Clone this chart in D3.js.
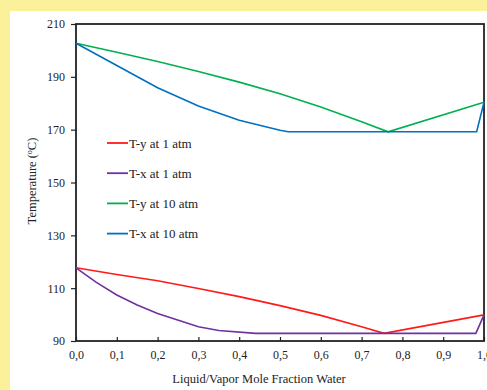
<!DOCTYPE html>
<html>
<head>
<meta charset="utf-8">
<script src="https://cdn.jsdelivr.net/npm/d3@7"></script>
<style>
  body { margin: 0; background: #faf19a; }
  svg { display: block; }
  text { font-family: "Liberation Serif", "Times New Roman", Times, "DejaVu Serif", serif; }
</style>
</head>
<body>
<script>
// series data (x = mole fraction water, T = temperature in C)
var ty1X = [0.0, 0.1, 0.2, 0.3, 0.4, 0.5, 0.6, 0.7, 0.755, 1.0];
var ty1T = [117.7, 115.2, 112.8, 109.9, 106.8, 103.4, 99.7, 95.4, 92.9, 99.9];

var tx1X = [0.0, 0.05, 0.1, 0.15, 0.2, 0.3, 0.35, 0.44, 0.98, 1.0];
var tx1T = [117.7, 112.2, 107.4, 103.6, 100.4, 95.4, 94.0, 92.9, 92.9, 99.9];

var ty10X = [0.0, 0.1, 0.2, 0.3, 0.4, 0.5, 0.6, 0.7, 0.765, 1.0];
var ty10T = [202.7, 199.3, 195.8, 192.0, 188.0, 183.6, 178.6, 173.0, 169.2, 180.4];

var tx10X = [0.0, 0.1, 0.2, 0.3, 0.4, 0.5, 0.52, 0.765, 0.982, 1.0];
var tx10T = [202.7, 194.3, 185.9, 179.0, 173.6, 169.8, 169.2, 169.2, 169.2, 180.4];

var seriesNames = ["T-y at 1 atm", "T-x at 1 atm", "T-y at 10 atm", "T-x at 10 atm"];
var seriesColors = ["#ff1a1a", "#7030a0", "#00b050", "#0070c0"];

var xTicks = [0, 0.1, 0.2, 0.3, 0.4, 0.5, 0.6, 0.7, 0.8, 0.9, 1.0];
var yTicks = [90, 110, 130, 150, 170, 190, 210];

var W = 487, H = 390;
var margin = {top: 24, left: 76};
var serif = "'Liberation Serif', 'Times New Roman', 'DejaVu Serif', serif";

var svg = d3.select("body").append("svg")
    .attr("width", W)
    .attr("height", H);

// white panel
svg.append("rect")
    .attr("x", 10).attr("y", 11)
    .attr("width", W - 10).attr("height", H - 11)
    .style("fill", "#fff");

var g = svg.append("g")
    .attr("transform", "translate(" + margin.left + "," + margin.top + ")");

var xScale = d3.scaleLinear().domain([0, 1]).range([0, 408]);
var yScale = d3.scaleLinear().domain([90, 210]).range([317, 0]);

var fmt = function(d){ return d3.format(".1f")(d).replace(".", ","); };

// axes
var xAxis = d3.axisBottom(xScale).tickValues(xTicks).tickFormat(fmt)
    .tickSizeInner(-4).tickSizeOuter(0).tickPadding(9);
var yAxis = d3.axisLeft(yScale).tickValues(yTicks)
    .tickSizeInner(5).tickSizeOuter(0).tickPadding(6);

var xG = g.append("g")
    .attr("transform", "translate(0,317)")
    .call(xAxis);
var yG = g.append("g").call(yAxis);

[xG, yG].forEach(function(a){
  a.attr("font-family", serif);
  a.select(".domain").remove();
  a.selectAll("line").style("stroke", "#222").style("stroke-width", 1.2);
  a.selectAll("text").style("font-size", "12px").style("fill", "#222");
});

// frame
g.append("rect")
    .attr("x", 0).attr("y", 0)
    .attr("width", 408).attr("height", 317)
    .style("fill", "none")
    .style("stroke", "#222")
    .style("stroke-width", 1.8);

// lines
var xsList = [ty1X, tx1X, ty10X, tx10X];
var tsList = [ty1T, tx1T, ty10T, tx10T];
var line = d3.line()
    .x(function(d){ return xScale(d[0]); })
    .y(function(d){ return yScale(d[1]); });

xsList.forEach(function(xs, i){
  var pts = xs.map(function(x, j){ return [x, tsList[i][j]]; });
  g.append("path")
      .datum(pts)
      .attr("d", line)
      .style("fill", "none")
      .style("stroke", seriesColors[i])
      .style("stroke-width", 1.6);
});

// legend
var legend = svg.append("g").attr("transform", "translate(107,143)");
seriesNames.forEach(function(name, i){
  var row = legend.append("g").attr("transform", "translate(0," + (i * 30.2) + ")");
  row.append("line")
      .attr("x1", 0).attr("x2", 21)
      .style("stroke", seriesColors[i])
      .style("stroke-width", 1.8);
  row.append("text")
      .attr("x", 22).attr("y", 4.5)
      .attr("font-family", serif)
      .style("font-size", "13px")
      .style("fill", "#222")
      .text(name);
});

// axis titles
svg.append("text")
    .attr("x", 259).attr("y", 383)
    .attr("font-family", serif)
    .style("text-anchor", "middle")
    .style("font-size", "12.5px")
    .style("fill", "#222")
    .text("Liquid/Vapor Mole Fraction Water");

var yt = svg.append("text")
    .attr("transform", "translate(36,181) rotate(-90)")
    .attr("font-family", serif)
    .style("text-anchor", "middle")
    .style("font-size", "12.5px")
    .style("fill", "#222");
yt.append("tspan").text("Temperature (");
yt.append("tspan").attr("dy", -4).style("font-size", "8px").text("o");
yt.append("tspan").attr("dy", 4).text("C)");
</script>
</body>
</html>
